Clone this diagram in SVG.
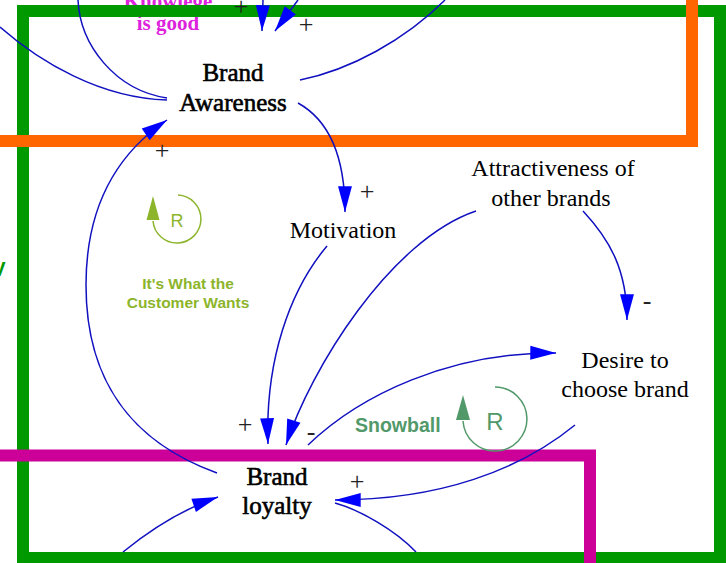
<svg xmlns="http://www.w3.org/2000/svg" width="726" height="563" viewBox="0 0 726 563">
  <defs>
    <marker id="head" markerUnits="userSpaceOnUse" markerWidth="30" markerHeight="20" viewBox="-26 -8 28 16" refX="0" refY="0" orient="auto">
      <path d="M0,0 L-24,-6.5 L-24,6.5 Z" fill="#0000FF"/>
    </marker>
    <style>
      .frame { fill: none; stroke-width: 12; }
      .link { fill: none; stroke: #1010C0; stroke-width: 1.5; }
      .arrow { marker-end: url(#head); }
      .node { font-family: "Liberation Serif", "Times New Roman", serif; font-size: 24px; fill: #000; text-anchor: middle; }
      .heavy { stroke: #000; stroke-width: 0.6; font-size: 25px; }
      .sign { font-family: "Liberation Serif", "Times New Roman", serif; font-size: 26px; fill: #222; text-anchor: middle; }
      .loopname { font-family: "Liberation Sans", Arial, sans-serif; font-weight: bold; }
    </style>
  </defs>

  <!-- sector caption, partly under the outer frame -->
  <g id="sector-caption" font-family="Liberation Serif, Times New Roman, serif" font-weight="bold" font-size="21" fill="#DD22DD" text-anchor="middle">
    <text x="168" y="8">Knowlege</text>
    <text x="168" y="30">is good</text>
  </g>
  <text x="-1" y="276" font-family="Liberation Sans, Arial, sans-serif" font-weight="bold" font-size="20" fill="#009900" text-anchor="middle">V</text>

  <!-- sector frames -->
  <g id="frames">
    <rect class="frame" x="23" y="11" width="697" height="547" stroke="#009900"/>
    <rect class="frame" x="-50" y="-50" width="742" height="191" stroke="#FF6600"/>
    <rect class="frame" x="-50" y="455.5" width="640" height="200" stroke="#CC0099"/>
  </g>

  <!-- causal links -->
  <g id="connectors">
    <path class="link" d="M167,100 C100,98 40,62 0,27"/>
    <path class="link" d="M167,98 C115,90 80,45 78,0"/>
    <path class="link arrow" d="M263,0 L262,31"/>
    <path class="link arrow" d="M298,0 L275,31"/>
    <path class="link" d="M300,80 C350,70 405,40 445,0"/>
    <path class="link arrow" d="M298,103 C325,118 345,150 345,212"/>
    <path class="link arrow" d="M217,473 C140,445 86,390 86,285 C86,210 115,155 167,120"/>
    <path class="link arrow" d="M327,246 C290,290 265,360 268,444"/>
    <path class="link arrow" d="M476,211 C390,240 310,370 286,445"/>
    <path class="link arrow" d="M583,211 C610,240 627,270 627,320"/>
    <path class="link arrow" d="M308,445 C360,395 450,352 556,353"/>
    <path class="link arrow" d="M575,425 C520,470 440,500 335,500"/>
    <path class="link" d="M335,503 C360,510 395,530 416,552"/>
    <path class="link arrow" d="M123,552 C150,530 180,510 218,497"/>
  </g>

  <!-- link polarities -->
  <g id="polarities">
    <text class="sign" x="241" y="15">+</text>
    <text class="sign" x="306" y="33">+</text>
    <text class="sign" x="162" y="159">+</text>
    <text class="sign" x="367" y="200">+</text>
    <text class="sign" x="245" y="433">+</text>
    <text class="sign" x="357" y="490">+</text>
    <text class="sign" x="311" y="440">-</text>
    <text class="sign" x="647" y="309">-</text>
  </g>

  <!-- reinforcing loop: It's What the Customer Wants -->
  <g id="loop-customer" fill="#8DB52B" stroke="#8DB52B">
    <path d="M178,195 A24,24 0 1 1 153,221" fill="none" stroke-width="1.5"/>
    <path d="M153,196 L146.5,220 L159.5,220 Z" stroke="none"/>
    <text x="177" y="227" stroke="none" font-family="Liberation Sans, Arial, sans-serif" font-size="18" text-anchor="middle">R</text>
    <text class="loopname" x="188" y="289" stroke="none" font-size="15.5" text-anchor="middle">It's What the</text>
    <text class="loopname" x="188" y="308" stroke="none" font-size="15.5" text-anchor="middle">Customer Wants</text>
  </g>

  <!-- reinforcing loop: Snowball -->
  <g id="loop-snowball" fill="#52996A" stroke="#52996A">
    <path d="M495,387 A32,32 0 1 1 463,421" fill="none" stroke-width="1.5"/>
    <path d="M463,395 L456,420 L470,420 Z" stroke="none"/>
    <text x="495" y="430" stroke="none" font-family="Liberation Sans, Arial, sans-serif" font-size="24" text-anchor="middle">R</text>
    <text class="loopname" x="355" y="432" stroke="none" font-size="19.5">Snowball</text>
  </g>

  <!-- variables -->
  <g id="brand-awareness">
    <text class="node heavy" x="233" y="81">Brand</text>
    <text class="node heavy" x="233" y="111">Awareness</text>
  </g>
  <g id="motivation">
    <text class="node" x="343" y="238">Motivation</text>
  </g>
  <g id="attractiveness">
    <text class="node" x="553" y="176">Attractiveness of</text>
    <text class="node" x="551" y="206">other brands</text>
  </g>
  <g id="desire">
    <text class="node" x="625" y="368">Desire to</text>
    <text class="node" x="625" y="397">choose brand</text>
  </g>
  <g id="brand-loyalty">
    <text class="node heavy" x="277" y="485">Brand</text>
    <text class="node heavy" x="277" y="514">loyalty</text>
  </g>
</svg>
